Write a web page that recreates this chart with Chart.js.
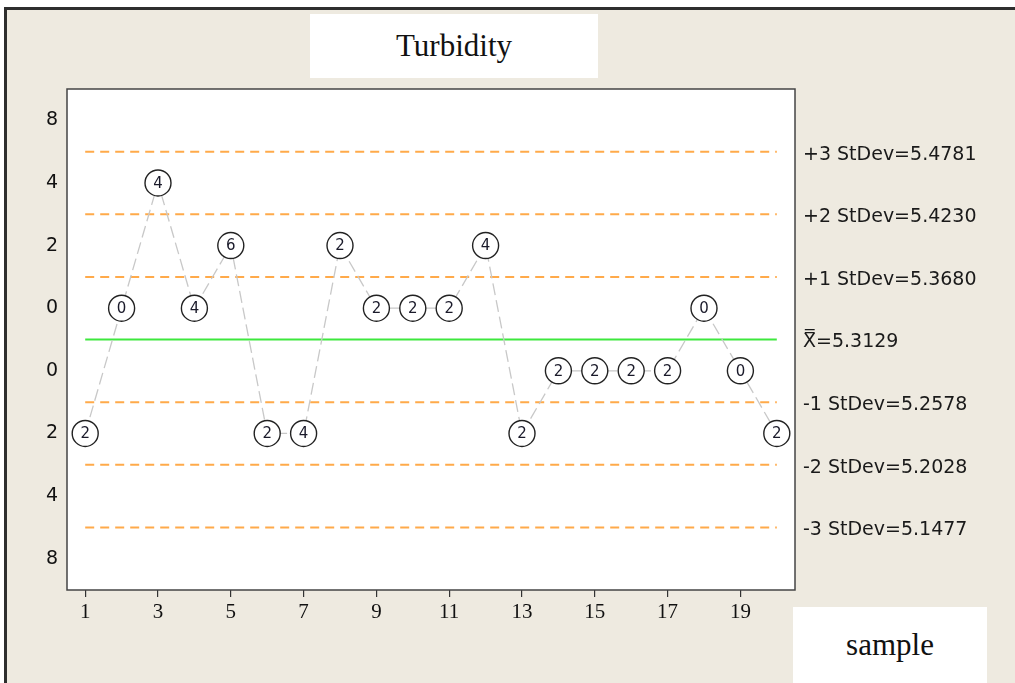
<!DOCTYPE html>
<html>
<head>
<meta charset="utf-8">
<script src="https://cdn.jsdelivr.net/npm/chart.js@4/dist/chart.umd.min.js"></script>
<style>
  body { margin: 0; background: #fff; }
  #frame {
    position: absolute; left: 4px; top: 7px; width: 1015px; height: 683px;
    background: #eeeae0; border-top: 3px solid #2e2e2e; border-left: 3px solid #2e2e2e;
  }
  .box {
    position: absolute; background: #fff; color: #111;
    font-family: "Liberation Serif", serif; display: flex; align-items: center; justify-content: center;
  }
  #title { left: 310px; top: 14px; width: 288px; height: 64px; font-size: 31px; }
  #xlabel { left: 793px; top: 607px; width: 194px; height: 76px; font-size: 31px; }
  #wrap { position: absolute; left: 0; top: 0; width: 1015px; height: 683px; }
</style>
</head>
<body>
<div id="frame"></div>
<div id="wrap"><canvas id="chart" width="1015" height="683"></canvas></div>
<div class="box" id="title">Turbidity</div>
<div class="box" id="xlabel">sample</div>
<script>
// Zone chart for turbidity
const samples = [1, 2, 3, 4, 5, 6, 7, 8, 9, 10, 11, 12, 13, 14, 15, 16, 17, 18, 19, 20];
// zone position of each sample (in StDev units, plotted at the zone middle)
const zonePos = [-1.5, 0.5, 2.5, 0.5, 1.5, -1.5, -1.5, 1.5, 0.5, 0.5, 0.5, 1.5, -1.5, -0.5, -0.5, -0.5, -0.5, 0.5, -0.5, -1.5];
// cumulative zone score written in each circle
const zoneScores = [2, 0, 4, 4, 6, 2, 4, 2, 2, 2, 2, 4, 2, 2, 2, 2, 2, 0, 0, 2];

const limitPos = [3, 2, 1, 0, -1, -2, -3];
const limitLabels = ['+3 StDev=5.4781', '+2 StDev=5.4230', '+1 StDev=5.3680', 'X\u033F=5.3129',
                     '-1 StDev=5.2578', '-2 StDev=5.2028', '-3 StDev=5.1477'];

const yTickPos = [3.5, 2.5, 1.5, 0.5, -0.5, -1.5, -2.5, -3.5];
const yTickLabels = ['8', '4', '2', '0', '0', '2', '4', '8'];
const xTicks = [1, 3, 5, 7, 9, 11, 13, 15, 17, 19];

const firstX = samples[0], lastX = samples[samples.length - 1];

const datasets = [{
    label: 'Zone',
    data: samples.map((s, i) => ({ x: s, y: zonePos[i] })),
    borderColor: '#c8c8c8',
    borderWidth: 1.3,
    borderDash: [12, 5],
    pointRadius: 13,
    pointBackgroundColor: '#fff',
    pointBorderColor: '#222',
    pointBorderWidth: 1.4
}];
limitPos.forEach(function(v) {
    datasets.push({
        label: 'limit' + v,
        data: [{ x: firstX, y: v }, { x: lastX, y: v }],
        borderColor: v === 0 ? '#3ee83e' : '#ffaa4a',
        borderWidth: 2,
        borderDash: v === 0 ? [] : [9, 6],
        pointRadius: 0
    });
});

const plotDecor = {
    id: 'plotDecor',
    beforeDatasetsDraw(chart) {
        const a = chart.chartArea, ctx = chart.ctx;
        ctx.save();
        ctx.fillStyle = '#fff';
        ctx.fillRect(a.left, a.top, a.right - a.left, a.bottom - a.top);
        ctx.restore();
    },
    afterDraw(chart) {
        const a = chart.chartArea, ctx = chart.ctx;
        ctx.save();
        ctx.strokeStyle = '#444';
        ctx.lineWidth = 1.5;
        ctx.strokeRect(a.left, a.top, a.right - a.left, a.bottom - a.top);

        // scores inside the circles
        const meta = chart.getDatasetMeta(0);
        ctx.fillStyle = '#1a1a2a';
        ctx.font = '15px "DejaVu Sans"';
        ctx.textAlign = 'center';
        ctx.textBaseline = 'middle';
        meta.data.forEach(function(pt, i) {
            ctx.fillText(String(zoneScores[i]), pt.x, pt.y + 1);
        });

        // limit labels on the right
        const ys = chart.scales.y;
        ctx.fillStyle = '#1a1a1a';
        ctx.font = '19px "DejaVu Sans"';
        ctx.textAlign = 'left';
        limitPos.forEach(function(v, i) {
            ctx.fillText(limitLabels[i], a.right + 8, ys.getPixelForValue(v) + 3);
        });
        ctx.restore();
    }
};

new Chart(document.getElementById('chart'), {
    type: 'line',
    data: { datasets: datasets },
    options: {
        responsive: false,
        animation: false,
        layout: { padding: { left: 0, top: 89, right: 220, bottom: 0 } },
        plugins: { legend: { display: false }, tooltip: { enabled: false } },
        scales: {
            x: {
                type: 'linear', min: 0.5, max: 20.5,
                afterBuildTicks: (scale) => { scale.ticks = xTicks.map(v => ({ value: v })); },
                afterFit: (scale) => { scale.height = 93; },
                grid: { drawOnChartArea: false, tickLength: 7, color: '#333', lineWidth: 1.2 },
                border: { display: false },
                ticks: { color: '#111', padding: 3, maxRotation: 0, font: { family: 'Liberation Serif', size: 21 } }
            },
            y: {
                type: 'linear', min: -4, max: 4,
                afterBuildTicks: (scale) => { scale.ticks = yTickPos.map(v => ({ value: v })); },
                afterFit: (scale) => { scale.width = 67; },
                grid: { display: false },
                border: { display: false },
                ticks: {
                    color: '#111', padding: 1,
                    font: { family: 'DejaVu Sans', size: 19 },
                    callback: (v, i) => yTickLabels[i]
                }
            }
        }
    },
    plugins: [plotDecor]
});
</script>
</body>
</html>
